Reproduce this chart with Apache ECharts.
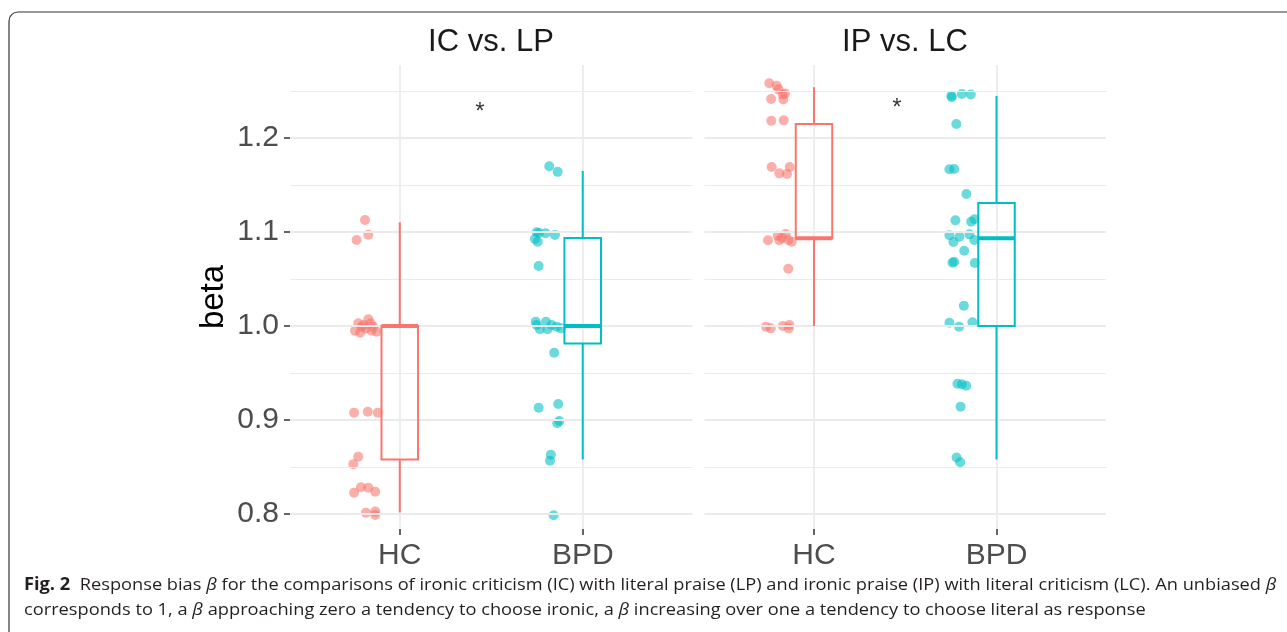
<!DOCTYPE html>
<html>
<head>
<meta charset="utf-8">
<script src="https://cdn.jsdelivr.net/npm/echarts@6/dist/echarts.min.js"></script>
<style>
  html, body { margin: 0; padding: 0; background: #fff; }
  #main { width: 1287px; height: 632px; }
</style>
</head>
<body>
<div id="main"></div>
<script>
// 分组与面板
const groups = ['HC', 'BPD']
const panels = ['IC vs. LP', 'IP vs. LC']
const groupColors = ['#F8766D', '#00BFC4']
const yTicks = [0.8, 0.9, 1.0, 1.1, 1.2]
const yMinor = [0.85, 0.95, 1.05, 1.15, 1.25]

// 箱线图统计量: [x, min, Q1, median, Q3, max]
const icLpBox = [[1, 0.8016, 0.858, 1.0, 1.0, 1.1103], [2, 0.858, 0.9815, 1.0, 1.0936, 1.165]]
const ipLcBox = [[1, 1.0, 1.0933, 1.0933, 1.2149, 1.254], [2, 0.858, 1.0, 1.0933, 1.1309, 1.2447]]

// 抖动散点 [x, beta]
const icLpHc = [
  [0.81, 1.1128], [0.828, 1.0971], [0.764, 1.0915],
  [0.773, 1.0029], [0.828, 1.0071], [0.841, 1.0029], [0.792, 0.9993], [0.755, 0.995], [0.783, 0.9929],
  [0.815, 0.9975], [0.855, 0.9993], [0.874, 0.994], [0.801, 1.0011], [0.846, 0.995],
  [0.75, 0.9078], [0.825, 0.9088], [0.88, 0.9078], [0.773, 0.861], [0.746, 0.853],
  [0.788, 0.8284], [0.828, 0.828], [0.75, 0.8227], [0.866, 0.8237], [0.815, 0.8014], [0.866, 0.8025], [0.866, 0.799]
]
const icLpBpd = [
  [1.817, 1.170], [1.863, 1.164], [1.748, 1.0997], [1.739, 1.0926], [1.754, 1.0897], [1.797, 1.0986],
  [1.848, 1.0968], [1.761, 1.099], [1.759, 1.0638],
  [1.743, 1.0046], [1.748, 1.0011], [1.766, 0.9965], [1.799, 1.0046], [1.808, 0.9965], [1.83, 1.0011],
  [1.857, 0.9993], [1.881, 0.9975], [1.844, 0.9716], [1.759, 0.913], [1.866, 0.917], [1.872, 0.899],
  [1.861, 0.8965], [1.826, 0.863], [1.821, 0.8567], [1.841, 0.7986]
]
const ipLcHc = [
  [0.755, 1.2582], [0.796, 1.2556], [0.805, 1.2518], [0.841, 1.2475], [0.829, 1.2464], [0.765, 1.2415],
  [0.832, 1.2411], [0.766, 1.2184], [0.834, 1.2188], [0.768, 1.1691], [0.81, 1.1624], [0.852, 1.1617],
  [0.867, 1.1691], [0.748, 1.0912], [0.801, 1.096], [0.81, 1.0912], [0.845, 1.0979], [0.859, 1.0915],
  [0.878, 1.0897], [0.825, 1.0936], [0.859, 1.061],
  [0.737, 0.9993], [0.763, 0.9975], [0.829, 1.0], [0.865, 1.0011], [0.862, 0.9975]
]
const ipLcBpd = [
  [1.753, 1.245], [1.755, 1.2433], [1.81, 1.2468], [1.859, 1.2464], [1.78, 1.2149], [1.742, 1.1667],
  [1.768, 1.167], [1.835, 1.1404], [1.775, 1.1124], [1.861, 1.111], [1.879, 1.1135], [1.742, 1.0965],
  [1.797, 1.095], [1.852, 1.0975], [1.764, 1.0894], [1.878, 1.0915], [1.823, 1.080], [1.759, 1.0674],
  [1.768, 1.0684], [1.881, 1.067], [1.821, 1.0216], [1.742, 1.0035], [1.868, 1.0039], [1.795, 0.9993],
  [1.786, 0.9386], [1.81, 0.938], [1.834, 0.9365], [1.803, 0.9142], [1.781, 0.860], [1.801, 0.855]
]
// 显著性星号位置
const starPos = [[1.438, 1.2277], [1.455, 1.232]]

const captionLine1 = 'Response bias {i|β} for the comparisons of ironic criticism (IC) with literal praise (LP) and ironic praise (IP) with literal criticism (LC). An unbiased {i|β}'
const captionLine2 = 'corresponds to 1, a {i|β} approaching zero a tendency to choose ironic, a {i|β} increasing over one a tendency to choose literal as response'

var chart = echarts.init(document.getElementById('main'))
var fontMain = '"Liberation Sans", Arial, sans-serif'
var fontCap = '"Open Sans", "Noto Sans", sans-serif'

// 估算说明文字宽度, 用于横向压缩
var ctx = document.createElement('canvas').getContext('2d')
function textW(str, font) { ctx.font = font; return ctx.measureText(str).width }
var capSize = 17
var w1 = textW('Fig. 2  ', 'bold ' + capSize + 'px ' + fontCap) +
  textW(captionLine1.replace(/\{i\|β\}/g, 'β'), capSize + 'px ' + fontCap)
var capScale = (1278 - 24) / w1

var grids = [
  { left: 290, right: 594.5, top: 65, bottom: 103 },
  { left: 704.5, right: 181, top: 65, bottom: 103 }
]

var xAxes = [], yAxes = [], series = []
grids.forEach(function(g, i) {
  xAxes.push({
    type: 'value', gridIndex: i, min: 0.4, max: 2.6,
    axisLine: { show: false },
    splitLine: { show: false },
    axisTick: { show: true, customValues: [1, 2], length: 6, lineStyle: { color: '#333', width: 1.5 } },
    axisLabel: {
      customValues: [1, 2], margin: 12, fontSize: 30, color: '#4d4d4d', fontFamily: fontMain,
      formatter: function(v) { return groups[Math.round(v) - 1] }
    }
  })
  yAxes.push({
    type: 'value', gridIndex: i, min: 0.784, max: 1.2777,
    name: i === 0 ? 'beta' : '', nameLocation: 'middle', nameRotate: 90, nameGap: 60,
    nameTextStyle: { fontSize: 33, color: '#000', fontFamily: fontMain },
    axisLine: { show: false },
    splitLine: { show: false },
    axisTick: { show: i === 0, customValues: yTicks, length: 6, lineStyle: { color: '#333', width: 1.5 } },
    axisLabel: {
      show: i === 0, customValues: yTicks, margin: 11, fontSize: 30, color: '#4d4d4d', fontFamily: fontMain,
      formatter: function(v) { return v.toFixed(1) }
    }
  })

  // 网格线
  var gridLines = []
  yMinor.forEach(function(v) { gridLines.push({ yAxis: v, lineStyle: { width: 1.2 } }) })
  yTicks.forEach(function(v) { gridLines.push({ yAxis: v, lineStyle: { width: 2 } }) })
  ;[1, 2].forEach(function(v) { gridLines.push({ xAxis: v, lineStyle: { width: 1.8 } }) })
  series.push({
    type: 'line', xAxisIndex: i, yAxisIndex: i, data: [], silent: true,
    markLine: {
      silent: true, symbol: 'none', label: { show: false }, animation: false,
      lineStyle: { color: '#ebebeb', type: 'solid' },
      data: gridLines
    }
  })
})

var pointSets = [[icLpHc, icLpBpd], [ipLcHc, ipLcBpd]]
pointSets.forEach(function(sets, i) {
  sets.forEach(function(pts, k) {
    series.push({
      type: 'scatter', xAxisIndex: i, yAxisIndex: i, data: pts, symbolSize: 10,
      itemStyle: { color: groupColors[k], opacity: 0.58 }
    })
  })
})

;[icLpBox, ipLcBox].forEach(function(box, i) {
  series.push({
    type: 'custom', xAxisIndex: i, yAxisIndex: i, data: box, z: 5,
    renderItem: function(params, api) {
      var x = api.value(0)
      var color = groupColors[params.dataIndex]
      var pLo = api.coord([x, api.value(1)])
      var pQ1 = api.coord([x, api.value(2)])
      var pMed = api.coord([x, api.value(3)])
      var pQ3 = api.coord([x, api.value(4)])
      var pHi = api.coord([x, api.value(5)])
      var half = api.size([0.2, 0])[0] / 2
      var ls = { stroke: color, lineWidth: 2, fill: null }
      return {
        type: 'group', children: [
          { type: 'line', shape: { x1: pHi[0], y1: pHi[1], x2: pQ3[0], y2: pQ3[1] }, style: ls },
          { type: 'line', shape: { x1: pQ1[0], y1: pQ1[1], x2: pLo[0], y2: pLo[1] }, style: ls },
          { type: 'rect', shape: { x: pQ3[0] - half, y: pQ3[1], width: half * 2, height: pQ1[1] - pQ3[1] }, style: ls },
          { type: 'line', shape: { x1: pMed[0] - half, y1: pMed[1], x2: pMed[0] + half, y2: pMed[1] },
            style: { stroke: color, lineWidth: 4 } }
        ]
      }
    }
  })
})

starPos.forEach(function(p, i) {
  series.push({
    type: 'scatter', xAxisIndex: i, yAxisIndex: i, data: [p], symbolSize: 1,
    itemStyle: { color: 'rgba(0,0,0,0)' },
    label: { show: true, position: 'inside', formatter: '*', fontSize: 24, color: '#000', fontFamily: fontMain }
  })
})

var option = {
  animation: false,
  grid: grids,
  xAxis: xAxes,
  yAxis: yAxes,
  series: series,
  graphic: [
    { type: 'rect', shape: { x: 9, y: 12, width: 1300, height: 640, r: 9 },
      style: { fill: 'none', stroke: '#333', lineWidth: 1.2 }, silent: true },
    { type: 'text', x: 491, y: 42, style: { text: panels[0], font: '31px ' + fontMain, fill: '#1a1a1a', textAlign: 'center', textVerticalAlign: 'middle' } },
    { type: 'text', x: 905, y: 42, style: { text: panels[1], font: '31px ' + fontMain, fill: '#1a1a1a', textAlign: 'center', textVerticalAlign: 'middle' } },
    {
      type: 'group', x: 24, y: 0, scaleX: capScale,
      children: [
        { type: 'text', x: 0, y: 585, style: {
          text: '{b|Fig. 2}  ' + captionLine1, fontFamily: fontCap, fontSize: capSize, fill: '#231f20',
          textVerticalAlign: 'middle',
          rich: { b: { fontWeight: 'bold', fontFamily: fontCap, fontSize: capSize, fill: '#231f20' },
                  i: { fontStyle: 'italic', fontFamily: fontCap, fontSize: capSize, fill: '#231f20' } }
        } },
        { type: 'text', x: 0, y: 610, style: {
          text: captionLine2, fontFamily: fontCap, fontSize: capSize, fill: '#231f20',
          textVerticalAlign: 'middle',
          rich: { i: { fontStyle: 'italic', fontFamily: fontCap, fontSize: capSize, fill: '#231f20' } }
        } }
      ]
    }
  ]
}
chart.setOption(option)
</script>
</body>
</html>
